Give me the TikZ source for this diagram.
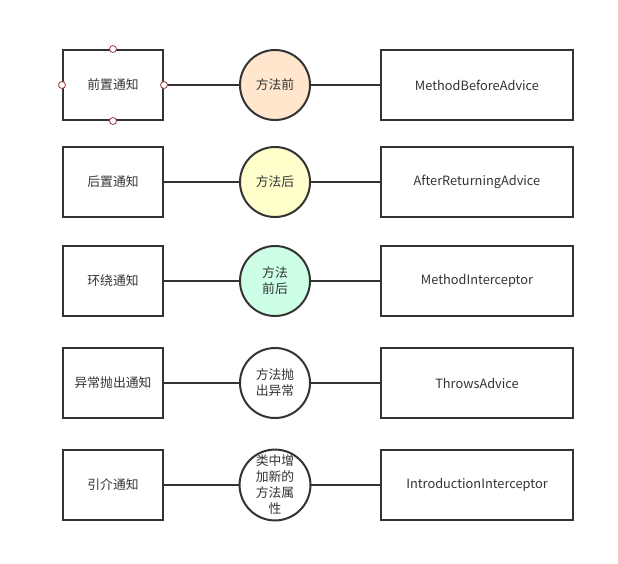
\documentclass[tikz,border=0pt]{standalone}
\usepackage{fontspec}
\setmainfont{Noto Sans CJK SC}
\usepackage{tikz}
\usetikzlibrary{positioning}

\definecolor{edge}{HTML}{333333}
\definecolor{txt}{HTML}{333333}
\definecolor{handlered}{HTML}{A33A3A}
\definecolor{fillA}{HTML}{FFE6CC}
\definecolor{fillB}{HTML}{FFFFCC}
\definecolor{fillC}{HTML}{CCFFE6}

\begin{document}
\begin{tikzpicture}[x=1pt, y=-1pt,
                  every node/.style = {text=txt, font=\fontsize{12.8}{16}\selectfont},
                  box/.style = {draw=edge, line width=2pt, minimum width=100pt,
                                minimum height=70pt, inner sep=0pt},
                  wide/.style = {box, minimum width=192pt},
                  disc/.style = {circle, draw=edge, line width=2pt, minimum size=70pt,
                                 inner sep=0pt, align=center},
                  link/.style = {draw=edge, line width=2pt},
                  handle/.style = {circle, draw=handlered, fill=white, line width=0.8pt,
                                   minimum size=7pt, inner sep=0pt}
                  ]
\useasboundingbox (0,0) rectangle (618,563);
\foreach \y/\l/\c/\f/\r [count=\i] in
    {85/前置通知/方法前/fillA/MethodBeforeAdvice,
     182/后置通知/方法后/fillB/AfterReturningAdvice,
     281/环绕通知/{方法\\前后}/fillC/MethodInterceptor,
     383/异常抛出通知/{方法抛\\出异常}/white/ThrowsAdvice,
     485/引介通知/{类中增\\加新的\\方法属\\性}/white/IntroductionInterceptor}
{
  \node (l\i) [box] at (113,\y) {\l};
  \node (c\i) [disc, fill=\f] at (275,\y) {\c};
  \node (r\i) [wide] at (477,\y) {\r};
  \draw[link] (l\i.east) -- (c\i.west);
  \draw[link] (c\i.east) -- (r\i.west);
}
% connection handles on the selected box
\foreach \a in {north, south, west, east}
  \node [handle] at (l1.\a) {};
\end{tikzpicture}
\end{document}
